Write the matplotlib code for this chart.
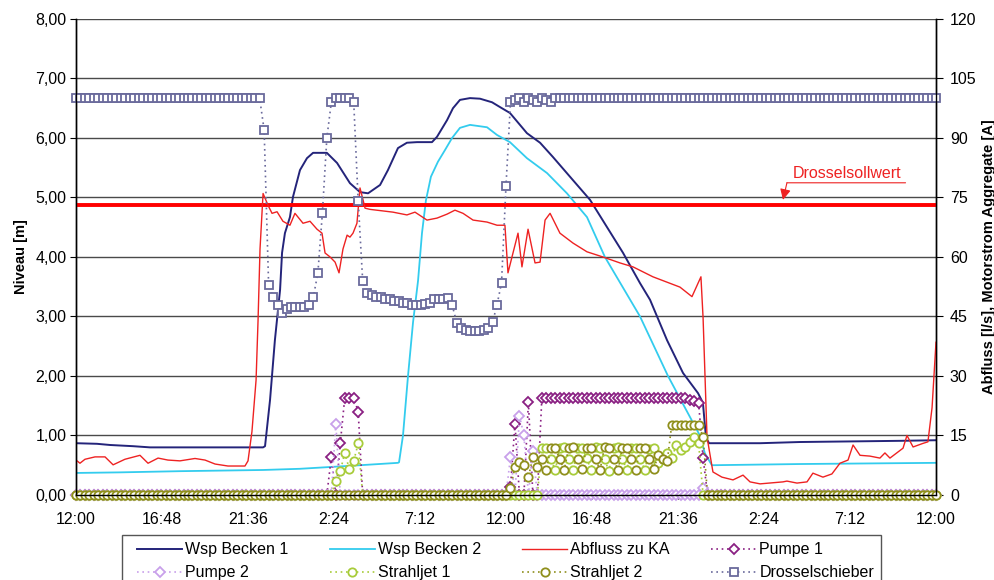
import matplotlib
matplotlib.use("Agg")
import numpy as np
import matplotlib.pyplot as plt
from matplotlib.lines import Line2D
from matplotlib.legend_handler import HandlerLine2D

plt.rcParams["font.family"] = ["Liberation Sans", "DejaVu Sans"]

# x axis: hours since 12:00 on day 1 (48 h)
tick_hours = [0, 4.8, 9.6, 14.4, 19.2, 24, 28.8, 33.6, 38.4, 43.2, 48]
tick_labels = ["12:00", "16:48", "21:36", "2:24", "7:12", "12:00",
               "16:48", "21:36", "2:24", "7:12", "12:00"]
niveau_ticks = [0, 1, 2, 3, 4, 5, 6, 7, 8]
niveau_labels = ["0,00", "1,00", "2,00", "3,00", "4,00", "5,00", "6,00", "7,00", "8,00"]
right_ticks = [0, 15, 30, 45, 60, 75, 90, 105, 120]

# Wsp Becken 1 [m]
wsp1_h = [0, 1.17, 1.9, 3.18, 4.13, 6.92, 10.44, 10.55, 10.83, 11.1, 11.39, 11.5,
          11.66, 11.94, 12.11, 12.5, 12.89, 13.23, 14.0, 14.57, 15.29, 15.85, 16.3,
          16.97, 17.41, 17.97, 18.47, 19.03, 19.87, 20.15, 20.71, 21.04, 21.43,
          21.99, 22.55, 23.22, 23.66, 24.22, 25.17, 25.9, 26.62, 27.74, 28.69,
          29.64, 30.53, 31.48, 32.04, 32.99, 33.88, 34.72, 34.99, 35.16, 35.33,
          38.18, 40.4, 43.2, 46.0, 48.0]
wsp1 = [0.87, 0.86, 0.84, 0.82, 0.80, 0.80, 0.80, 0.82, 1.6, 2.6, 3.45, 4.07,
        4.4, 4.67, 5.01, 5.46, 5.66, 5.75, 5.75, 5.58, 5.24, 5.09, 5.07,
        5.21, 5.46, 5.83, 5.92, 5.93, 5.93, 6.02, 6.3, 6.5, 6.64,
        6.67, 6.66, 6.6, 6.52, 6.42, 6.08, 5.92, 5.68, 5.29, 4.96,
        4.5, 4.07, 3.56, 3.28, 2.6, 2.05, 1.71, 1.55, 0.97, 0.87,
        0.87, 0.89, 0.9, 0.91, 0.92]

# Wsp Becken 2 [m]
wsp2_h = [0, 2.46, 5.8, 10.44, 12.5, 14.18, 15.85, 17.97, 18.03, 18.25, 18.53,
          18.81, 19.09, 19.31, 19.53, 19.81, 20.2, 20.6, 20.99, 21.43, 21.99,
          22.94, 23.5, 24.22, 25.17, 26.29, 27.4, 28.52, 29.52, 31.48, 33.04,
          34.82, 35.1, 35.49, 40.4, 48.0]
wsp2 = [0.37, 0.38, 0.40, 0.42, 0.44, 0.47, 0.50, 0.54, 0.55, 1.0, 2.0,
        2.9, 3.6, 4.4, 4.95, 5.35, 5.6, 5.8, 6.0, 6.17, 6.22,
        6.18, 6.05, 5.93, 5.66, 5.41, 5.07, 4.67, 4.0, 3.0, 2.0,
        1.0, 0.7, 0.5, 0.52, 0.54]

# Abfluss zu KA [l/s]
abfluss_h = [0, 0.22, 0.5, 1.06, 1.62, 2.07, 2.73, 3.57, 4.02, 4.58, 5.13, 5.8,
             6.64, 7.2, 7.76, 8.48, 9.43, 9.6, 9.82, 10.05, 10.16, 10.27, 10.44,
             10.72, 10.94, 11.22, 11.55, 11.94, 12.22, 12.67, 13.06, 13.45, 13.73,
             13.9, 14.18, 14.46, 14.68, 14.9, 15.13, 15.29, 15.46, 15.68, 15.85,
             16.02, 16.13, 16.41, 17.69, 18.47, 18.92, 19.59, 20.15, 20.71, 21.15,
             21.6, 22.16, 22.94, 23.5, 23.94, 24.11, 24.67, 24.89, 25.23, 25.62,
             25.9, 26.18, 26.46, 27.01, 27.74, 28.52, 29.41, 30.36, 31.09, 32.2,
             33.71, 34.38, 34.88, 35.0, 35.22, 35.55, 36.05, 36.67, 37.23, 37.62,
             38.18, 39.46, 39.68, 40.24, 40.8, 41.13, 41.69, 42.19, 42.64, 43.09,
             43.37, 43.76, 44.31, 44.87, 45.15, 45.43, 46.16, 46.38, 46.72, 47.27,
             47.55, 47.78, 48.0]
abfluss = [8.8, 8, 9, 9.6, 9.6, 7.6, 9, 10, 8, 9.3, 8.8, 8.6,
           9.2, 8.8, 7.8, 7.3, 7.3, 8.6, 16, 29, 44, 62, 76,
           73, 71, 71.4, 69, 68, 71, 68.5, 69, 67, 66,
           61, 60, 58.7, 56, 62, 65.5, 65, 66, 68.5, 77.4,
           74.4, 72.3, 72, 71.3, 70.6, 71.3, 69.3, 69.8, 70.8, 71.8,
           71, 69.3, 68.8, 68, 68, 56, 66, 57.5, 67, 58.5,
           58.7, 69.3, 71, 66, 63.5, 61.3, 60, 58.5, 57.5, 55,
           52.4, 50, 55, 44.6, 14.6, 5.8, 4.5, 3.8, 5, 3.3,
           2.8, 3.3, 3.5, 3, 3.3, 5.5, 4.5, 5.3, 8, 8.8,
           12.6, 10, 9.8, 9.3, 10.6, 9.3, 11.8, 15, 12.1, 13,
           13.4, 22, 38.5]
drossel_soll = 73

# 15-minute logger values (right axis)
logger_step_h = 0.25
pumpe1 = [
    0, 0, 0, 0, 0, 0, 0, 0, 0, 0, 0, 0, 0, 0, 0, 0,
    0, 0, 0, 0, 0, 0, 0, 0, 0, 0, 0, 0, 0, 0, 0, 0,
    0, 0, 0, 0, 0, 0, 0, 0, 0, 0, 0, 0, 0, 0, 0, 0,
    0, 0, 0, 0, 0, 0, 0, 0, 0, 9.6, 0, 13, 24.5, 24.5, 24.5, 21,
    0, 0, 0, 0, 0, 0, 0, 0, 0, 0, 0, 0, 0, 0, 0, 0,
    0, 0, 0, 0, 0, 0, 0, 0, 0, 0, 0, 0, 0, 0, 0, 0,
    0, 2, 18, 0, 0, 23.4, 0, 0, 24.5, 24.5, 24.5, 24.5, 24.5, 24.5, 24.5, 24.5,
    24.5, 24.5, 24.5, 24.5, 24.5, 24.5, 24.5, 24.5, 24.5, 24.5, 24.5, 24.5, 24.5, 24.5, 24.5, 24.5,
    24.5, 24.5, 24.5, 24.5, 24.5, 24.5, 24.5, 24.5, 24.5, 24, 23.8, 23.3, 9.3, 0, 0, 0,
    0, 0, 0, 0, 0, 0, 0, 0, 0, 0, 0, 0, 0, 0, 0, 0,
    0, 0, 0, 0, 0, 0, 0, 0, 0, 0, 0, 0, 0, 0, 0, 0,
    0, 0, 0, 0, 0, 0, 0, 0, 0, 0, 0, 0, 0, 0, 0, 0,
    0]
pumpe2 = [
    0, 0, 0, 0, 0, 0, 0, 0, 0, 0, 0, 0, 0, 0, 0, 0,
    0, 0, 0, 0, 0, 0, 0, 0, 0, 0, 0, 0, 0, 0, 0, 0,
    0, 0, 0, 0, 0, 0, 0, 0, 0, 0, 0, 0, 0, 0, 0, 0,
    0, 0, 0, 0, 0, 0, 0, 0, 0, 0, 18, 0, 0, 0, 0, 0,
    0, 0, 0, 0, 0, 0, 0, 0, 0, 0, 0, 0, 0, 0, 0, 0,
    0, 0, 0, 0, 0, 0, 0, 0, 0, 0, 0, 0, 0, 0, 0, 0,
    0, 9.6, 0, 20, 15, 0, 11, 0, 0, 0, 0, 0, 0, 0, 0, 0,
    0, 0, 0, 0, 0, 0, 0, 0, 0, 0, 0, 0, 0, 0, 0, 0,
    0, 0, 0, 0, 0, 0, 0, 0, 0, 0, 0, 0, 1.8, 0, 0, 0,
    0, 0, 0, 0, 0, 0, 0, 0, 0, 0, 0, 0, 0, 0, 0, 0,
    0, 0, 0, 0, 0, 0, 0, 0, 0, 0, 0, 0, 0, 0, 0, 0,
    0, 0, 0, 0, 0, 0, 0, 0, 0, 0, 0, 0, 0, 0, 0, 0,
    0]
strahl1 = [
    0, 0, 0, 0, 0, 0, 0, 0, 0, 0, 0, 0, 0, 0, 0, 0,
    0, 0, 0, 0, 0, 0, 0, 0, 0, 0, 0, 0, 0, 0, 0, 0,
    0, 0, 0, 0, 0, 0, 0, 0, 0, 0, 0, 0, 0, 0, 0, 0,
    0, 0, 0, 0, 0, 0, 0, 0, 0, 0, 3.5, 6, 10.6, 6.6, 8.6, 13,
    0, 0, 0, 0, 0, 0, 0, 0, 0, 0, 0, 0, 0, 0, 0, 0,
    0, 0, 0, 0, 0, 0, 0, 0, 0, 0, 0, 0, 0, 0, 0, 0,
    0, 0, 0, 0, 0, 0, 0, 0, 11.9, 11.9, 9, 6.3, 11.9, 12.2, 9, 6.3,
    11.9, 11.9, 9.3, 6.3, 12, 11.9, 9, 6, 11.9, 12.2, 9, 6.3, 11.9, 11.9, 9, 6.3,
    11.6, 11.9, 8, 9, 10.6, 9.3, 12.6, 11.3, 12, 13.4, 14.6, 13, 0, 0, 0, 0,
    0, 0, 0, 0, 0, 0, 0, 0, 0, 0, 0, 0, 0, 0, 0, 0,
    0, 0, 0, 0, 0, 0, 0, 0, 0, 0, 0, 0, 0, 0, 0, 0,
    0, 0, 0, 0, 0, 0, 0, 0, 0, 0, 0, 0, 0, 0, 0, 0,
    0]
strahl2 = [
    0, 0, 0, 0, 0, 0, 0, 0, 0, 0, 0, 0, 0, 0, 0, 0,
    0, 0, 0, 0, 0, 0, 0, 0, 0, 0, 0, 0, 0, 0, 0, 0,
    0, 0, 0, 0, 0, 0, 0, 0, 0, 0, 0, 0, 0, 0, 0, 0,
    0, 0, 0, 0, 0, 0, 0, 0, 0, 0, 0, 0, 0, 0, 0, 0,
    0, 0, 0, 0, 0, 0, 0, 0, 0, 0, 0, 0, 0, 0, 0, 0,
    0, 0, 0, 0, 0, 0, 0, 0, 0, 0, 0, 0, 0, 0, 0, 0,
    0, 1.8, 7, 8.3, 7.5, 4.5, 9.6, 7, 9, 6.3, 11.9, 11.9, 9, 6.3, 11.9, 12,
    9, 6.6, 11.9, 11.9, 9, 6.3, 12.2, 11.9, 9, 6.3, 11.9, 11.9, 9, 6.3, 11.9, 11.9,
    9, 6.6, 10, 9, 8.5, 17.7, 17.7, 17.7, 17.7, 17.7, 17.7, 17.7, 14.6, 0, 0, 0,
    0, 0, 0, 0, 0, 0, 0, 0, 0, 0, 0, 0, 0, 0, 0, 0,
    0, 0, 0, 0, 0, 0, 0, 0, 0, 0, 0, 0, 0, 0, 0, 0,
    0, 0, 0, 0, 0, 0, 0, 0, 0, 0, 0, 0, 0, 0, 0, 0,
    0]
drossel = [
    100, 100, 100, 100, 100, 100, 100, 100, 100, 100, 100, 100, 100, 100, 100, 100,
    100, 100, 100, 100, 100, 100, 100, 100, 100, 100, 100, 100, 100, 100, 100, 100,
    100, 100, 100, 100, 100, 100, 100, 100, 100, 100, 92, 53, 50, 48, 46, 47,
    47.5, 47.5, 47.5, 47.5, 48, 50, 56, 71, 90, 99, 100, 100, 100, 100, 99, 74,
    54, 51, 50.5, 50, 49.8, 49.5, 49.3, 49, 48.8, 48.5, 48.3, 48, 48, 48, 48.2, 48.5,
    49.5, 49.5, 49.5, 49.7, 47.8, 43.4, 42, 41.5, 41.3, 41.3, 41.3, 41.5, 42, 43.5, 48, 53.5,
    78, 99, 99.5, 100, 99, 100, 99.5, 99, 100, 99.5, 99, 100, 100, 100, 100, 100,
    100, 100, 100, 100, 100, 100, 100, 100, 100, 100, 100, 100, 100, 100, 100, 100,
    100, 100, 100, 100, 100, 100, 100, 100, 100, 100, 100, 100, 100, 100, 100, 100,
    100, 100, 100, 100, 100, 100, 100, 100, 100, 100, 100, 100, 100, 100, 100, 100,
    100, 100, 100, 100, 100, 100, 100, 100, 100, 100, 100, 100, 100, 100, 100, 100,
    100, 100, 100, 100, 100, 100, 100, 100, 100, 100, 100, 100, 100, 100, 100, 100,
    100]

t = np.arange(len(drossel)) * logger_step_h

NAVY = "#24247a"
CYAN = "#33ccee"
RED = "#ee2222"
P1_COL = "#8a2083"
P2_COL = "#c8a0ea"
SJ1_COL = "#a8cc3a"
SJ2_COL = "#8f8f1c"
DR_COL = "#6a6a9c"
GRID = "#4a4a4a"
dots = (0, (1, 2.2))

fig = plt.figure(figsize=(9.95, 5.8), dpi=100)
ax = fig.add_axes([0.0764, 0.1466, 0.8643, 0.8207])
ax2 = ax.twinx()

l_wsp1, = ax.plot(wsp1_h, wsp1, color=NAVY, lw=1.4, label="Wsp Becken 1")
l_wsp2, = ax.plot(wsp2_h, wsp2, color=CYAN, lw=1.3, label="Wsp Becken 2")

ax2.axhline(drossel_soll, color="#ff0000", lw=2.8, zorder=1)
l_abf, = ax2.plot(abfluss_h, abfluss, color=RED, lw=1.0, label="Abfluss zu KA")

mk = dict(ls=dots, lw=1.2, mfc="white", mew=1.3, clip_on=False)
l_p1, = ax2.plot(t, pumpe1, color=P1_COL, marker="D", ms=4.8, label="Pumpe 1", **mk)
l_p2, = ax2.plot(t, pumpe2, color=P2_COL, marker="D", ms=4.8, label="Pumpe 2", **mk)
l_s1, = ax2.plot(t, strahl1, color=SJ1_COL, marker="o", ms=6.0, label="Strahljet 1", **mk)
l_s2, = ax2.plot(t, strahl2, color=SJ2_COL, marker="o", ms=6.0, label="Strahljet 2", **mk)
l_dr, = ax2.plot(t, drossel, color=DR_COL, marker="s", ms=5.2, label="Drosselschieber", **mk)

# Drosselsollwert callout: underlined label with a leader arrow
ax2.annotate("Drosselsollwert", xy=(40.0, 79.2), color=RED, fontsize=11.5,
             ha="left", va="bottom")
ax2.annotate("", xy=(46.3, 78.7), xytext=(39.68, 78.7),
             arrowprops=dict(arrowstyle="-", color=RED, lw=0.8, shrinkA=0, shrinkB=0))
ax2.annotate("", xy=(39.46, 74.4), xytext=(39.68, 78.7),
             arrowprops=dict(arrowstyle="-|>", color=RED, lw=0.8, shrinkA=0, shrinkB=0,
                             mutation_scale=16))

ax.set_xlim(0, 48)
ax.set_ylim(0, 8)
ax2.set_ylim(0, 120)
ax.set_xticks(tick_hours)
ax.set_xticklabels(tick_labels)
ax.set_yticks(niveau_ticks)
ax.set_yticklabels(niveau_labels)
ax2.set_yticks(right_ticks)

ax.yaxis.grid(True, color=GRID, lw=1.0)
ax.set_axisbelow(True)
for a in (ax, ax2):
    a.spines["top"].set_visible(False)
    for s in ("left", "right", "bottom"):
        a.spines[s].set_color("black")
        a.spines[s].set_linewidth(1.0)
ax.tick_params(axis="y", direction="out", length=4, labelsize=11.5, pad=3)
ax.tick_params(axis="x", direction="out", length=3, labelsize=11.5, pad=9)
ax2.tick_params(axis="y", direction="out", length=5, labelsize=11.5, pad=5)

ax.set_ylabel("Niveau [m]", fontsize=10.5, fontweight="bold", labelpad=5)
ax2.set_ylabel("Abfluss [l/s], Motorstrom Aggregate [A]", fontsize=10.5,
               fontweight="bold", labelpad=4)

handles = [l_wsp1, l_p2, l_wsp2, l_s1, l_abf, l_s2, l_p1, l_dr]
leg = fig.legend(handles, [h.get_label() for h in handles], loc="upper left",
                 bbox_to_anchor=(122 / 995, 1 - 535 / 580), ncol=4, fontsize=11.5,
                 handlelength=3.3, handletextpad=0.2, columnspacing=2.1,
                 borderpad=0.45, labelspacing=0.5, numpoints=1, fancybox=False,
                 framealpha=1, edgecolor="#555555", borderaxespad=0,
                 handler_map={Line2D: HandlerLine2D(xpad=0.5)})
leg.get_frame().set_linewidth(1.0)

fig.savefig("out.png", dpi=100)
